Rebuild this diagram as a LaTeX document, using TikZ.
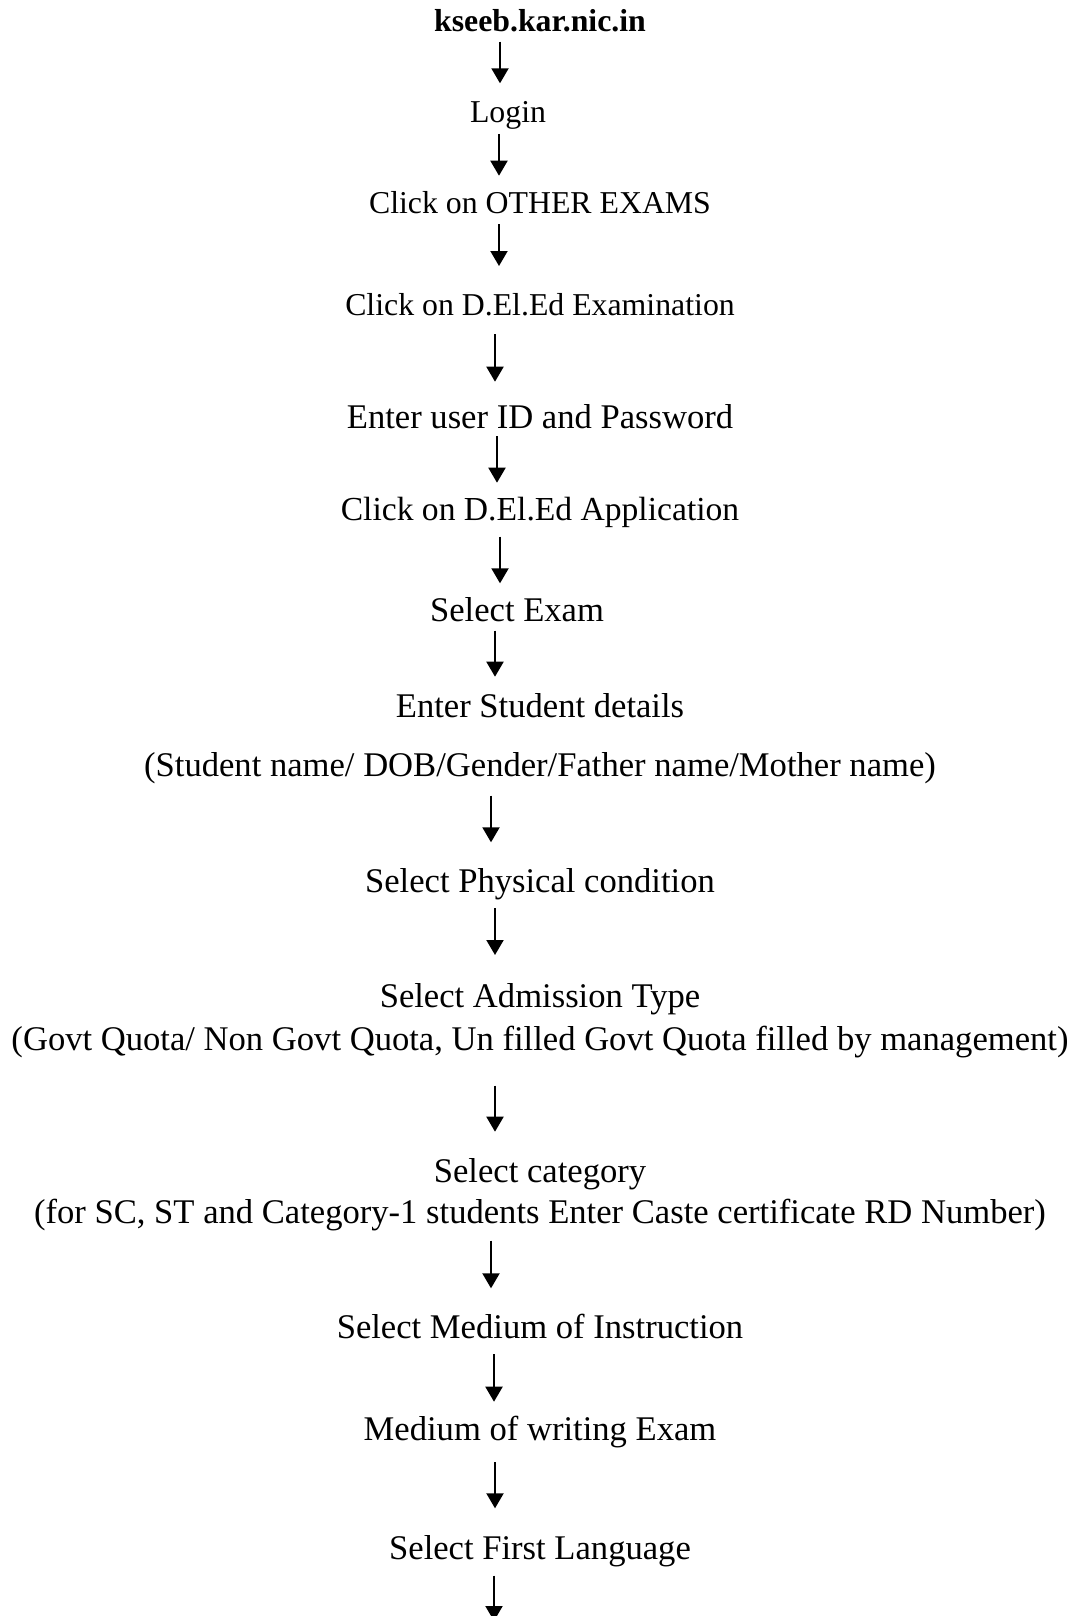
\documentclass[tikz,border=0pt]{standalone}
\usepackage{fontspec}
\setmainfont{Liberation Serif}
\usepackage{tikz}
\usetikzlibrary{arrows.meta}

\begin{document}
\begin{tikzpicture}[x=0.5pt,y=-0.5pt,
lbl/.style={anchor=base,inner sep=0pt,font=\fontsize{17.3}{21}\selectfont},
lblsm/.style={lbl,font=\fontsize{15.9}{19}\selectfont},
flow/.style={line width=1pt,-{Triangle[length=7.5pt,width=8.5pt]}}
]
\useasboundingbox (0,0) rectangle (1075,1616);

% The steps
\node[lblsm,font=\fontsize{15.9}{19}\selectfont\bfseries] (kseeb) at (540,32) {kseeb.kar.nic.in};
\node[lblsm] (login) at (508,123) {Login};
\node[lblsm] (other) at (540,213.3) {Click on OTHER EXAMS};
\node[lblsm] (exam) at (540,315) {Click on D.El.Ed Examination};
\node[lbl] (user) at (540,428.3) {Enter user ID and Password};
\node[lbl,font=\fontsize{16.8}{20}\selectfont] (appl) at (540,520) {Click on D.El.Ed Application};
\node[lbl] (selexam) at (517,621.7) {Select Exam};
\node[lbl] (stud) at (540,717.3) {Enter Student details};
\node[lbl] (studinfo) at (540,776.7) {(Student name/ DOB/Gender/Father name/Mother name)};
\node[lbl] (phys) at (540,892.7) {Select Physical condition};
\node[lbl] (adm) at (540,1007.3) {Select Admission Type};
\node[lbl] (adminfo) at (540,1050) {(Govt Quota/ Non Govt Quota, Un filled Govt Quota filled by management)};
\node[lbl] (cat) at (540,1182.7) {Select category};
\node[lbl] (catinfo) at (540,1223.3) {(for SC, ST and Category-1 students Enter Caste certificate RD Number)};
\node[lbl] (medium) at (540,1338.3) {Select Medium of Instruction};
\node[lbl] (writing) at (540,1440) {Medium of writing Exam};
\node[lbl] (lang) at (540,1559.3) {Select First Language};
\coordinate (next) at (494,1621);

% The arrows
\draw[flow] ([shift={(-40,9.7)}]kseeb.base) -- ([shift={(-8,-39.7)}]login.base);
\draw[flow] ([shift={(-9,11)}]login.base) -- ([shift={(-41,-37.6)}]other.base);
\draw[flow] ([shift={(-41,10.7)}]other.base) -- ([shift={(-41,-49)}]exam.base);
\draw[flow] ([shift={(-45,19)}]exam.base) -- ([shift={(-45,-46.6)}]user.base);
\draw[flow] ([shift={(-43,7.7)}]user.base) -- ([shift={(-43,-37.3)}]appl.base);
\draw[flow] ([shift={(-40,16.7)}]appl.base) -- ([shift={(-17,-38.4)}]selexam.base);
\draw[flow] ([shift={(-22,9)}]selexam.base) -- ([shift={(-45,-40.6)}]stud.base);
\draw[flow] ([shift={(-49,19)}]studinfo.base) -- ([shift={(-49,-50.4)}]phys.base);
\draw[flow] ([shift={(-45,15.6)}]phys.base) -- ([shift={(-45,-52.3)}]adm.base);
\draw[flow] ([shift={(-45,35.7)}]adminfo.base) -- ([shift={(-45,-51)}]cat.base);
\draw[flow] ([shift={(-49,17.4)}]catinfo.base) -- ([shift={(-49,-50)}]medium.base);
\draw[flow] ([shift={(-46,16)}]medium.base) -- ([shift={(-46,-38.3)}]writing.base);
\draw[flow] ([shift={(-45,22.3)}]writing.base) -- ([shift={(-45,-51)}]lang.base);
\draw[flow] ([shift={(-46,16.4)}]lang.base) -- (next);
\end{tikzpicture}
\end{document}
